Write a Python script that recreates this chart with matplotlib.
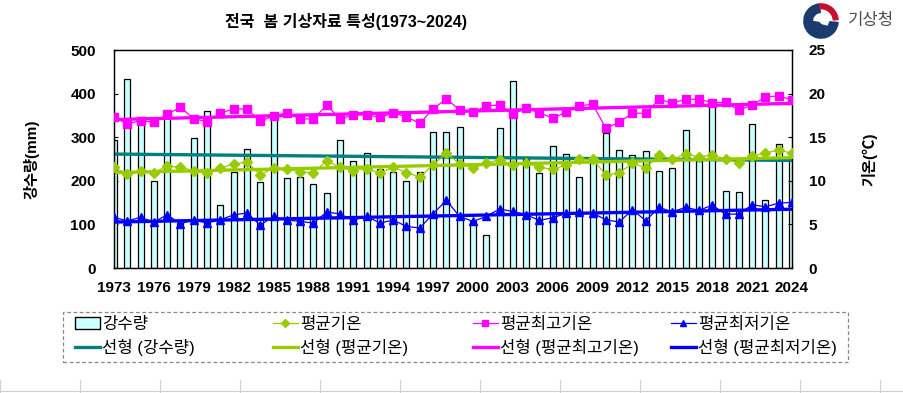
import numpy as np
import matplotlib
matplotlib.use('Agg')
from matplotlib import pyplot as plt
from matplotlib.patches import Rectangle, Wedge, Circle
from matplotlib.lines import Line2D

plt.rcParams['font.family'] = ['Liberation Sans', 'Noto Sans CJK KR', 'DejaVu Sans']

years = np.arange(1973, 2025)

# 강수량 (mm)
rain = [294, 434, 330, 200, 355, 103, 298, 360, 145, 221,
        272, 198, 345, 206, 208, 192, 172, 293, 245, 263,
        226, 221, 200, 221, 311, 311, 323, 108, 76, 321,
        429, 250, 218, 279, 262, 208, 247, 309, 270, 259,
        268, 222, 229, 316, 245, 372, 177, 175, 330, 156,
        285, 250]

# 평균기온 (C)
tavg = [11.56, 10.76, 11.07, 10.95, 11.68, 11.56, 11.15, 10.84, 11.45, 11.95,
        12.14, 10.69, 11.45, 11.34, 11.03, 10.92, 12.29, 11.53, 11.18, 11.41,
        10.88, 11.56, 10.95, 10.42, 11.83, 13.17, 11.95, 11.45, 12.02, 12.40,
        11.83, 12.02, 11.56, 11.30, 11.83, 12.45, 12.45, 10.69, 10.90, 12.02,
        11.50, 12.95, 12.50, 13.05, 12.75, 12.95, 12.52, 12.02, 12.79, 13.20,
        13.51, 13.17]

# 평균최고기온 (C)
tmax = [17.29, 16.53, 16.90, 16.72, 17.63, 18.44, 17.10, 16.80, 17.75, 18.24,
        18.24, 16.83, 17.44, 17.79, 17.10, 17.10, 18.66, 17.10, 17.56, 17.56,
        17.29, 17.75, 17.33, 16.60, 18.24, 19.39, 18.13, 17.86, 18.59, 18.70,
        17.67, 18.32, 17.82, 17.18, 17.86, 18.59, 18.78, 16.03, 16.72, 17.75,
        17.75, 19.35, 18.93, 19.35, 19.35, 18.97, 19.00, 18.09, 18.70, 19.62,
        19.73, 19.27]

# 평균최저기온 (C)
tmin = [5.80, 5.42, 5.80, 5.27, 6.10, 5.08, 5.50, 5.15, 5.53, 6.10,
        6.30, 4.92, 5.92, 5.50, 5.34, 5.15, 6.41, 6.20, 5.46, 5.95,
        5.15, 5.50, 4.77, 4.58, 6.22, 7.75, 5.92, 5.34, 5.92, 6.76,
        6.49, 6.10, 5.46, 5.76, 6.26, 6.37, 6.30, 5.53, 5.27, 6.68,
        5.42, 6.98, 6.41, 6.98, 6.60, 7.21, 6.18, 6.18, 7.25, 7.02,
        7.44, 7.52]

xticks = np.arange(1973, 2025, 3)


def trend(y):
    k, b = np.polyfit(years, y, 1)
    return k * years + b


fig = plt.figure(figsize=(9.04, 3.93), dpi=100)
ax = fig.add_axes([114 / 904, 1 - 268 / 393, 678 / 904, 218 / 393])
ax2 = ax.twinx()

ax.bar(years, rain, width=0.45, color='#CCFFFF', edgecolor='black', linewidth=0.9, zorder=2)
ax.plot(years, trend(rain), color='#008080', lw=2.4, zorder=3)

ax2.plot(years, trend(tavg), color='#99CC00', lw=2.4, zorder=2)
ax2.plot(years, trend(tmax), color='#FF00FF', lw=2.4, zorder=2)
ax2.plot(years, trend(tmin), color='#0000FF', lw=2.4, zorder=2)
ax2.plot(years, tavg, color='#99CC00', lw=0.9, marker='D', ms=5, zorder=3)
ax2.plot(years, tmax, color='#FF00FF', lw=0.9, marker='s', ms=6, zorder=3)
ax2.plot(years, tmin, color='#0000FF', lw=0.9, marker='^', ms=6, zorder=3)

ax.set_xlim(1973, 2024)
ax.set_ylim(0, 500)
ax2.set_ylim(0, 25)
ax.set_xticks(xticks)
ax.set_yticks(np.arange(0, 501, 100))
ax2.set_yticks(np.arange(0, 26, 5))

ax.tick_params(axis='x', direction='in', length=3, pad=9, labelsize=11)
ax.tick_params(axis='y', direction='in', length=3, pad=13, labelsize=11)
ax2.tick_params(axis='y', direction='in', length=3, pad=12, labelsize=11)
for lab in ax.get_xticklabels() + ax.get_yticklabels() + ax2.get_yticklabels():
    lab.set_fontweight('bold')
for a in (ax, ax2):
    for s in a.spines.values():
        s.set_linewidth(0.9)

ax.set_ylabel('강수량(mm)', fontsize=11, fontweight='bold')
ax.yaxis.set_label_coords(-0.11, 0.5)
ax2.set_ylabel('기온(℃)', fontsize=11, fontweight='bold', rotation=90)
ax2.yaxis.set_label_coords(1.103, 0.5)

fig.text(346 / 904, 1 - 22 / 393, '전국  봄 기상자료 특성(1973~2024)', ha='center', va='center',
         fontsize=11.5, fontweight='bold')

# legend: four columns, two rows each, in one dashed box
columns = [
    (75, [Rectangle((0, 0), 1, 1, facecolor='#CCFFFF', edgecolor='black', linewidth=1),
          Line2D([], [], color='#008080', lw=2.4)],
     ['강수량', '선형 (강수량)']),
    (273, [Line2D([], [], color='#99CC00', lw=0.9, marker='D', ms=4),
           Line2D([], [], color='#99CC00', lw=2.4)],
     ['평균기온', '선형 (평균기온)']),
    (473, [Line2D([], [], color='#FF00FF', lw=0.9, marker='s', ms=5),
           Line2D([], [], color='#FF00FF', lw=2.4)],
     ['평균최고기온', '선형 (평균최고기온)']),
    (671, [Line2D([], [], color='#0000FF', lw=0.9, marker='^', ms=5),
           Line2D([], [], color='#0000FF', lw=2.4)],
     ['평균최저기온', '선형 (평균최저기온)']),
]
for xpos, hs, ls in columns:
    leg = fig.legend(hs, ls, loc='upper left', bbox_to_anchor=(xpos / 904, 1 - 317 / 393),
                     fontsize=12, frameon=False, handlelength=1.5, handletextpad=0.12,
                     borderpad=0, borderaxespad=0, labelspacing=0.4)
fig.add_artist(Rectangle((63 / 904, 1 - 362 / 393), 785 / 904, 50 / 393, transform=fig.transFigure,
                         fill=False, edgecolor='#888888', linewidth=0.9, linestyle=(0, (3, 2))))

# logo
lax = fig.add_axes([803 / 904, 1 - 39 / 393, 36 / 904, 36 / 393])
lax.set_xlim(-1.05, 1.05)
lax.set_ylim(-1.05, 1.05)
lax.set_aspect('equal')
lax.axis('off')
lax.add_patch(Wedge((0, 0), 1.0, 95, 355, width=0.5, color='#1B3B6F'))
lax.add_patch(Wedge((0, 0), 1.0, 5, 95, width=0.28, color='#C8102E'))
lax.add_patch(Wedge((-0.05, -0.1), 0.45, 170, 330, color='#1B3B6F'))
lax.add_patch(Circle((0.2, 0.1), 0.28, color='white'))
fig.text(848 / 904, 1 - 21 / 393, '기상청', ha='left', va='center', fontsize=12, color='#4D4D4D')

# spreadsheet cell lines at bottom
for xp in range(0, 904, 80):
    fig.add_artist(Line2D([xp / 904, xp / 904], [0, 1 - 380 / 393], color='#D0D0D0', lw=0.8))
fig.add_artist(Line2D([0, 1], [1 - 391 / 393, 1 - 391 / 393], color='#D0D0D0', lw=0.8))

fig.savefig('out.png', dpi=100)
